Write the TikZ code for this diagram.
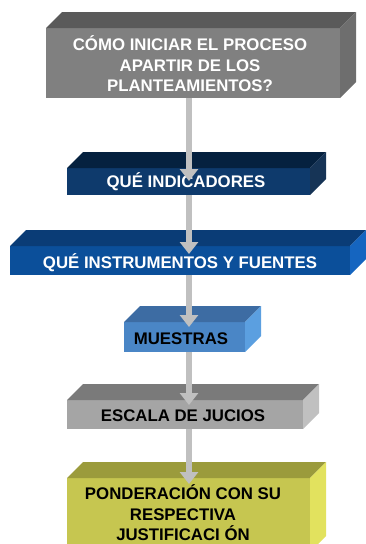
\documentclass[tikz,border=0pt]{standalone}
\usepackage{fontspec}
\setmainfont{Liberation Sans}
\usetikzlibrary{arrows.meta}
\definecolor{fA}{HTML}{808080}\definecolor{tA}{HTML}{5A5A5A}\definecolor{sA}{HTML}{6E6E6E}
\definecolor{fB}{HTML}{0E3A6C}\definecolor{tB}{HTML}{05213F}\definecolor{sB}{HTML}{163456}
\definecolor{fC}{HTML}{0B4F9A}\definecolor{tC}{HTML}{0A3C76}\definecolor{sC}{HTML}{1565C0}
\definecolor{fD}{HTML}{4A86C6}\definecolor{tD}{HTML}{3D6CA3}\definecolor{sD}{HTML}{5B9FE0}
\definecolor{fE}{HTML}{A5A5A5}\definecolor{tE}{HTML}{7A7A7A}\definecolor{sE}{HTML}{C0C0C0}
\definecolor{fF}{HTML}{C6C650}\definecolor{tF}{HTML}{9B9B3C}\definecolor{sF}{HTML}{E2E25E}
\definecolor{arr}{HTML}{C0C0C0}
\tikzset{
  face/.style={inner sep=0pt, outer sep=0pt, align=center,
    font=\fontsize{16.8}{20.5}\selectfont\bfseries},
  conn/.style={draw=arr, line width=6pt, -{Triangle[width=18pt,length=12pt]}, arr}
}
% #1 name, #2 x1, #3 y1, #4 x2, #5 y2, #6 front, #7 top, #8 side
\newcommand\mybox[8]{%
  \node[face, fill=#6, minimum width={(#4)-(#2)}, minimum height={(#5)-(#3)}]
    (#1) at ({((#2)+(#4))/2},{((#3)+(#5))/2}) {};
  \fill[#7] (#1.north west) -- ++(16,-16) -- ++({(#4)-(#2)},0) -- (#1.north east) -- cycle;
  \fill[#8] (#1.north east) -- ++(16,-16) -- ++(0,{(#5)-(#3)}) -- (#1.south east) -- cycle;
}
\begin{document}
\begin{tikzpicture}[x=1pt,y=-1pt]
\useasboundingbox (0,0) rectangle (366,544);
\mybox{b1}{46}{28}{340}{98}{fA}{tA}{sA}
\mybox{b2}{67}{168}{310}{195}{fB}{tB}{sB}
\mybox{b3}{10}{246}{350}{275}{fC}{tC}{sC}
\mybox{b4}{124}{322}{245}{352}{fD}{tD}{sD}
\mybox{b5}{67}{400}{303}{429}{fE}{tE}{sE}
\mybox{b6}{67}{478}{310}{552}{fF}{tF}{sF}
\node[face, text=white] (l1) at (190,64) {CÓMO INICIAR EL PROCESO\\APARTIR DE LOS\\PLANTEAMIENTOS?};
\node[face, text=white] (l2) at (186,182) {QUÉ INDICADORES};
\node[face, text=white] (l3) at (180,263) {QUÉ INSTRUMENTOS Y FUENTES};
\node[face, text=black] (l4) at (181,339) {MUESTRAS};
\node[face, text=black] (l5) at (183,416) {ESCALA DE JUCIOS};
\node[face, text=black] (l6) at (183,513) {PONDERACIÓN CON SU\\RESPECTIVA\\JUSTIFICACI ÓN};
\coordinate (ax) at (189,0);
\draw[conn, shorten >=-13pt] (b1.south -| ax) -- (b2.north -| ax);
\draw[conn, shorten >=-8pt] (b2.south -| ax) -- (b3.north -| ax);
\draw[conn, shorten >=-5pt] (b3.south -| ax) -- (b4.north -| ax);
\draw[conn, shorten >=-5pt] (b4.south -| ax) -- (b5.north -| ax);
\draw[conn, shorten >=-6pt] (b5.south -| ax) -- (b6.north -| ax);
\end{tikzpicture}
\end{document}
